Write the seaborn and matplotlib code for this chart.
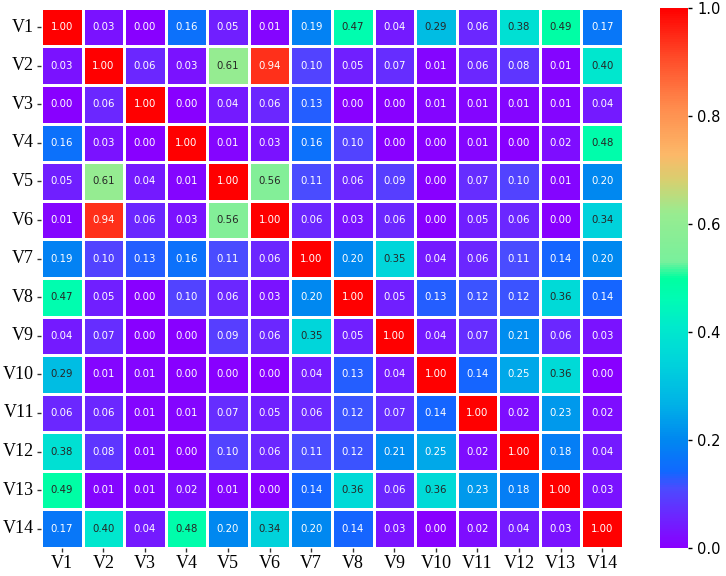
import matplotlib
matplotlib.use("Agg")
import matplotlib.pyplot as plt
from matplotlib.colors import LinearSegmentedColormap
import numpy as np
import pandas as pd
import seaborn as sns

labels = ["V1", "V2", "V3", "V4", "V5", "V6", "V7",
          "V8", "V9", "V10", "V11", "V12", "V13", "V14"]

corr = [
    [1.00, 0.03, 0.00, 0.16, 0.05, 0.01, 0.19, 0.47, 0.04, 0.29, 0.06, 0.38, 0.49, 0.17],
    [0.03, 1.00, 0.06, 0.03, 0.61, 0.94, 0.10, 0.05, 0.07, 0.01, 0.06, 0.08, 0.01, 0.40],
    [0.00, 0.06, 1.00, 0.00, 0.04, 0.06, 0.13, 0.00, 0.00, 0.01, 0.01, 0.01, 0.01, 0.04],
    [0.16, 0.03, 0.00, 1.00, 0.01, 0.03, 0.16, 0.10, 0.00, 0.00, 0.01, 0.00, 0.02, 0.48],
    [0.05, 0.61, 0.04, 0.01, 1.00, 0.56, 0.11, 0.06, 0.09, 0.00, 0.07, 0.10, 0.01, 0.20],
    [0.01, 0.94, 0.06, 0.03, 0.56, 1.00, 0.06, 0.03, 0.06, 0.00, 0.05, 0.06, 0.00, 0.34],
    [0.19, 0.10, 0.13, 0.16, 0.11, 0.06, 1.00, 0.20, 0.35, 0.04, 0.06, 0.11, 0.14, 0.20],
    [0.47, 0.05, 0.00, 0.10, 0.06, 0.03, 0.20, 1.00, 0.05, 0.13, 0.12, 0.12, 0.36, 0.14],
    [0.04, 0.07, 0.00, 0.00, 0.09, 0.06, 0.35, 0.05, 1.00, 0.04, 0.07, 0.21, 0.06, 0.03],
    [0.29, 0.01, 0.01, 0.00, 0.00, 0.00, 0.04, 0.13, 0.04, 1.00, 0.14, 0.25, 0.36, 0.00],
    [0.06, 0.06, 0.01, 0.01, 0.07, 0.05, 0.06, 0.12, 0.07, 0.14, 1.00, 0.02, 0.23, 0.02],
    [0.38, 0.08, 0.01, 0.00, 0.10, 0.06, 0.11, 0.12, 0.21, 0.25, 0.02, 1.00, 0.18, 0.04],
    [0.49, 0.01, 0.01, 0.02, 0.01, 0.00, 0.14, 0.36, 0.06, 0.36, 0.23, 0.18, 1.00, 0.03],
    [0.17, 0.40, 0.04, 0.48, 0.20, 0.34, 0.20, 0.14, 0.03, 0.00, 0.02, 0.04, 0.03, 1.00],
]

df = pd.DataFrame(corr, index=labels, columns=labels)

# rainbow-ish map
cmap = LinearSegmentedColormap.from_list("rb", [
    (0.00, "#8800ff"),
    (0.06, "#6a28ff"),
    (0.11, "#4a4cff"),
    (0.14, "#1068ff"),
    (0.20, "#0088f0"),
    (0.27, "#00b4e6"),
    (0.35, "#00d6da"),
    (0.41, "#00eacc"),
    (0.46, "#00fcb4"),
    (0.50, "#00ffa0"),
    (0.53, "#78f09c"),
    (0.62, "#98ec90"),
    (0.68, "#d6d070"),
    (0.73, "#fcb868"),
    (0.82, "#ff8a4c"),
    (0.91, "#ff4a28"),
    (1.00, "#ff0000"),
])

fig = plt.figure(figsize=(7.26, 5.76), dpi=100)
ax = fig.add_axes([0.0565, 0.0486, 0.8015, 0.9378])
cax = fig.add_axes([0.909, 0.0486, 0.039, 0.9378])

sns.heatmap(df, ax=ax, cbar_ax=cax, cmap=cmap, vmin=0, vmax=1,
            annot=True, fmt=".2f", linewidths=1, linecolor="white",
            annot_kws={"fontsize": 7.3, "family": "DejaVu Sans"})

ax.tick_params(axis="both", length=3, width=1, pad=2, color="#333333")
for lab in ax.get_xticklabels() + ax.get_yticklabels():
    lab.set_family("Liberation Serif")
    lab.set_fontsize(13)
plt.setp(ax.get_yticklabels(), rotation=0)
plt.setp(ax.get_xticklabels(), rotation=0)

cax.set_yticks([0.0, 0.2, 0.4, 0.6, 0.8, 1.0])
cax.tick_params(length=3, width=1, labelsize=10.5)

fig.savefig("out.png", dpi=100)
